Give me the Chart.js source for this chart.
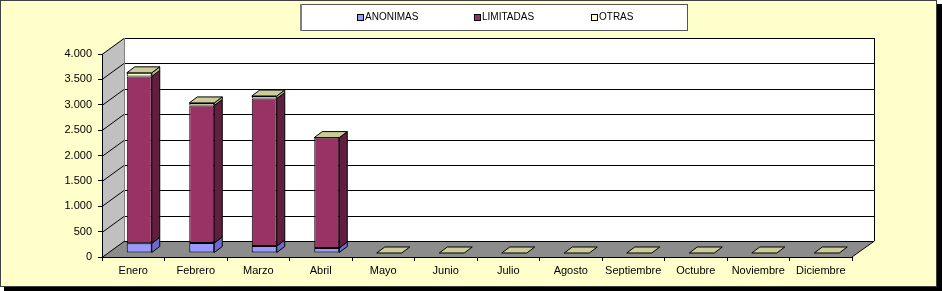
<!DOCTYPE html>
<html><head><meta charset="utf-8">
<script src="https://cdn.jsdelivr.net/npm/chart.js@4"></script>
<style>html,body{margin:0;padding:0;overflow:hidden;background:#fff}canvas{display:block}</style>
</head><body>
<canvas id="c" width="942" height="291"></canvas>
<script>
const categories = ['Enero','Febrero','Marzo','Abril','Mayo','Junio','Julio','Agosto','Septiembre','Octubre','Noviembre','Diciembre'];
const anonimas  = [190, 197, 138, 99, 0, 0, 0, 0, 0, 0, 0, 0];
const limitadas = [3290, 2710, 2905, 2175, 0, 0, 0, 0, 0, 0, 0, 0];
const otras     = [70, 50, 50, 0, 0, 0, 0, 0, 0, 0, 0, 0];
const yTicks = {min: 0, max: 4000, step: 500};

const FONT = "'Liberation Sans', Arial, sans-serif";
Chart.defaults.font.family = FONT;
Chart.defaults.font.size = 11;
Chart.defaults.color = '#000';

const WDX = 22, WDY = -16;   // wall depth
const BX = 6, BY = -4;       // bar offset into depth
const BDX = 8, BDY = -6;     // bar depth
const sideColors = ['#6b6bcf', '#611f40', '#b8b88f'];
const topColor = '#cccc99';

function poly(ctx, pts, fill, stroke) {
  ctx.beginPath();
  ctx.moveTo(pts[0][0], pts[0][1]);
  for (let i = 1; i < pts.length; i++) ctx.lineTo(pts[i][0], pts[i][1]);
  ctx.closePath();
  if (fill) { ctx.fillStyle = fill; ctx.fill(); }
  if (stroke) { ctx.strokeStyle = stroke; ctx.lineWidth = 1; ctx.stroke(); }
}

const scene = {
  id: 'scene',
  beforeDraw(chart) {
    const ctx = chart.ctx, a = chart.chartArea, y = chart.scales.y;
    ctx.save();
    // outer frame with shadow
    ctx.fillStyle = '#000';
    ctx.fillRect(4, 4, 938, 287);
    ctx.fillStyle = '#ffffcc';
    ctx.fillRect(0, 0, 937, 286);
    ctx.strokeStyle = '#404040';
    ctx.lineWidth = 1;
    ctx.strokeRect(0.5, 0.5, 936, 286);

    // legend
    ctx.fillStyle = '#fff';
    ctx.fillRect(300, 4, 388, 27);
    ctx.strokeStyle = '#555';
    ctx.strokeRect(300.5, 4.5, 387, 26);
    ctx.fillStyle = '#808080';
    ctx.fillRect(300, 4, 2, 27);
    const items = chart.data.datasets;
    ctx.font = '10px ' + FONT;
    ctx.textBaseline = 'middle';
    items.forEach((ds, i) => {
      const lx = 358 + i * 117, ly = 17;
      ctx.fillStyle = ds.backgroundColor;
      ctx.fillRect(lx, ly - 2, 5, 5);
      ctx.strokeStyle = '#000';
      ctx.strokeRect(lx - 0.5, ly - 2.5, 6, 6);
      ctx.fillStyle = '#000';
      ctx.fillText(ds.label, lx + 7, ly + 0.5);
    });

    const L = a.left, R = a.right, T = a.top, B = a.bottom;
    // back wall
    ctx.fillStyle = '#fff';
    ctx.fillRect(L + WDX, T + WDY, R - L, B - T);
    // side wall
    poly(ctx, [[L, B], [L, T], [L + WDX, T + WDY], [L + WDX, B + WDY]], '#c0c0c0', null);
    // floor
    poly(ctx, [[L, B], [R, B], [R + WDX, B + WDY], [L + WDX, B + WDY]], '#8c8c8c', null);
    // gridlines
    ctx.strokeStyle = '#000';
    ctx.lineWidth = 1;
    y.ticks.forEach(t => {
      const py = Math.round(y.getPixelForValue(t.value)) + 0.5;
      ctx.beginPath();
      ctx.moveTo(L, py);
      ctx.lineTo(L + WDX, py + WDY);
      ctx.lineTo(R + WDX, py + WDY);
      ctx.stroke();
    });
    // edges
    ctx.beginPath();
    ctx.moveTo(R + WDX + 0.5, T + WDY);
    ctx.lineTo(R + WDX + 0.5, B + WDY);
    ctx.lineTo(R, B);
    ctx.stroke();
    ctx.strokeStyle = '#808080';
    ctx.beginPath();
    ctx.moveTo(L + WDX + 0.5, T + WDY);
    ctx.lineTo(L + WDX + 0.5, B + WDY);
    ctx.stroke();
    ctx.restore();
  },
  beforeDatasetsDraw(chart) {
    chart.ctx.save();
    chart.ctx.translate(BX, BY);
  },
  afterDatasetsDraw(chart) {
    const ctx = chart.ctx;
    const n = chart.data.datasets.length;
    for (let d = 0; d < n; d++) {
      const meta = chart.getDatasetMeta(d);
      meta.data.forEach(el => {
        const p = el.getProps(['x', 'y', 'base', 'width'], true);
        if (Math.abs(p.base - p.y) < 0.5) return;
        const xr = p.x + p.width / 2;
        poly(ctx, [[xr, p.y], [xr + BDX, p.y + BDY], [xr + BDX, p.base + BDY], [xr, p.base]], sideColors[d], '#000');
      });
    }
    const topMeta = chart.getDatasetMeta(n - 1);
    topMeta.data.forEach(el => {
      const p = el.getProps(['x', 'y', 'base', 'width'], true);
      const xl = p.x - p.width / 2, xr = p.x + p.width / 2;
      poly(ctx, [[xl, p.y], [xl + BDX, p.y + BDY], [xr + BDX, p.y + BDY], [xr, p.y]], topColor, '#000');
    });
    ctx.restore();
  }
};

function fmt(v) { return String(v).replace(/\B(?=(\d{3})+(?!\d))/g, '.'); }

new Chart(document.getElementById('c'), {
  type: 'bar',
  data: {
    labels: categories,
    datasets: [
      {label: 'ANONIMAS', data: anonimas, backgroundColor: '#9999ff'},
      {label: 'LIMITADAS', data: limitadas, backgroundColor: '#993366'},
      {label: 'OTRAS', data: otras, backgroundColor: '#ffffcc'}
    ].map(d => Object.assign(d, {borderColor: '#000', borderWidth: 1, borderSkipped: false, categoryPercentage: 1, barPercentage: 0.4}))
  },
  options: {
    responsive: false,
    animation: false,
    events: [],
    layout: {padding: {left: 0, right: 90, top: 54, bottom: 0}},
    plugins: {legend: {display: false}, tooltip: {enabled: false}},
    scales: {
      x: {
        stacked: true,
        afterFit(s) { s.height = 34; },
        grid: {display: true, drawOnChartArea: false, offset: true, tickLength: 4, color: '#000'},
        border: {display: true, color: '#000'},
        ticks: {maxRotation: 0, autoSkip: false, padding: 3}
      },
      y: {
        stacked: true,
        min: yTicks.min, max: yTicks.max,
        afterFit(s) { s.width = 102; },
        grid: {display: true, drawOnChartArea: false, tickLength: 4, color: '#000'},
        border: {display: true, color: '#000'},
        ticks: {stepSize: yTicks.step, padding: 6, callback: v => fmt(v)}
      }
    }
  },
  plugins: [scene]
});
</script>
</body></html>
